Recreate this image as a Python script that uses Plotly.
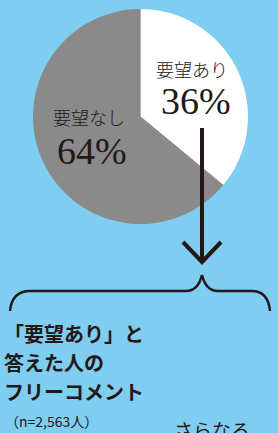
import plotly.graph_objects as go

# ---- data ----
slice_labels = ["要望あり", "要望なし"]
slice_values = [36, 64]
slice_colors = ["#FFFFFF", "#8A8A8A"]
pct_texts = ["36%", "64%"]
heading_lines = ["「要望あり」と", "答えた人の", "フリーコメント"]
sample_text = "（n=2,563人）"
next_text = "さらなる"

BG = "#7FCDF1"
INK = "#231815"
W, H = 278, 433

fig = go.Figure()

# pie
fig.add_trace(go.Pie(
    labels=slice_labels, values=slice_values, sort=False,
    direction="clockwise", rotation=0,
    marker=dict(colors=slice_colors, line=dict(width=0)),
    textinfo="none", hoverinfo="label+percent", showlegend=False,
    domain=dict(x=[33 / W, 248 / W], y=[1 - 224 / H, 1 - 9 / H]),
))

# invisible pixel-mapped axes for decorations/text
fig.update_xaxes(range=[0, W], visible=False, fixedrange=True)
fig.update_yaxes(range=[H, 0], visible=False, fixedrange=True)

jp_light = dict(family="Noto Sans CJK JP", size=18, color=INK, weight=300)
num_font = dict(family="Liberation Serif", size=38, color=INK)

ann = []
ann.append(dict(x=192, y=69, text=slice_labels[0], font=jp_light))
ann.append(dict(x=196, y=101, text=pct_texts[0], font=num_font))
ann.append(dict(x=89, y=117, text=slice_labels[1], font=jp_light))
ann.append(dict(x=92, y=151, text=pct_texts[1], font=num_font))

bold = dict(family="Noto Sans CJK JP", size=20, color=INK, weight=700)
for i, line in enumerate(heading_lines):
    ann.append(dict(x=2, y=333 + 29 * i, text=line, font=bold, xanchor="left"))
ann.append(dict(x=3, y=421, text=sample_text,
                font=dict(family="Noto Sans CJK JP", size=14, color=INK), xanchor="left"))
ann.append(dict(x=172, y=429, text=next_text,
                font=dict(family="Noto Sans CJK JP", size=19, color=INK), xanchor="left"))

for a in ann:
    a.setdefault("xanchor", "center")
    a.update(xref="x", yref="y", yanchor="middle", showarrow=False)
fig.update_layout(annotations=ann)

shapes = [
    dict(type="line", x0=202, y0=128, x1=202, y1=261,
         line=dict(color=INK, width=4)),
    dict(type="path", path="M 183 242 L 202 262 L 221 242",
         line=dict(color=INK, width=4)),
    dict(type="path",
         path="M 10 311 Q 12 291 30 291 L 186 291 Q 198 291 202 275 "
              "Q 206 291 218 291 L 252 291 Q 268 291 270 311",
         line=dict(color=INK, width=2.5)),
]
for s in shapes:
    s.update(xref="x", yref="y")
fig.update_layout(shapes=shapes)

fig.update_layout(
    width=W, height=H, margin=dict(l=0, r=0, t=0, b=0),
    paper_bgcolor=BG, plot_bgcolor=BG,
)

fig.write_html(
    "out.html",
    config={"displayModeBar": False},
    post_script="document.body.style.margin='0';document.body.style.overflow='hidden';document.body.style.background='%s';" % BG,
)
